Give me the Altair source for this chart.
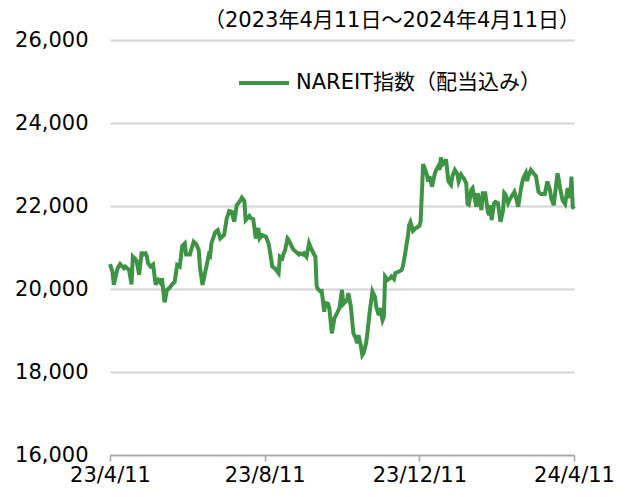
import altair as alt
import pandas as pd

start_date = "2023-04-11"
days = [0, 2, 3, 6, 8, 11, 12, 15, 17, 18, 20, 21, 23, 25, 26, 28, 29, 30, 32, 34,
        36, 37, 38, 40, 41, 43, 45, 47, 49, 51, 53, 55, 57, 59, 60, 63, 64, 66, 68, 70,
        71, 73, 76, 78, 79, 80, 83, 85, 87, 90, 92, 94, 96, 98, 100, 103, 104, 106, 107, 110,
        111, 113, 115, 117, 118, 120, 123, 125, 126, 128, 130, 132, 133, 134, 136, 137, 138, 140, 141, 144,
        145, 148, 149, 150, 152, 153, 155, 157, 158, 161, 162, 163, 164, 166, 167, 169, 170, 172, 173, 175,
        177, 179, 181, 183, 184, 187, 188, 190, 192, 194, 195, 196, 198, 199, 200, 202, 203, 205, 207, 209,
        210, 212, 213, 215, 216, 217, 219, 221, 222, 224, 225, 228, 230, 231, 233, 235, 236, 237, 239, 241,
        244, 245, 247, 250, 251, 252, 254, 256, 257, 259, 260, 261, 262, 264, 265, 267, 269, 270, 272, 274,
        275, 277, 278, 279, 281, 282, 283, 285, 286, 287, 289, 290, 291, 293, 294, 296, 298, 299, 300, 301,
        303, 304, 306, 308, 310, 311, 312, 314, 315, 317, 319, 320, 322, 324, 325, 326, 328, 329, 330, 332,
        334, 336, 338, 340, 341, 343, 345, 347, 348, 350, 353, 354, 355, 357, 359, 360, 361, 363, 364, 365,
        366]
values = [20600, 20410, 20100, 20500, 20600, 20500, 20540, 20460, 20110, 20780, 20720, 20670, 20340, 20900, 20820, 20860, 20800, 20620, 20540, 20590,
          20100, 20180, 20220, 20140, 20260, 19680, 19980, 20030, 20110, 20170, 20580, 20540, 21040, 21100, 20830, 20830, 20940, 21140, 21080, 20940,
          20510, 20100, 20540, 20830, 20800, 21100, 21370, 21420, 21220, 21300, 21690, 21880, 21860, 21620, 22020, 22140, 22200, 22120, 21660, 21760,
          21710, 21680, 21220, 21470, 21220, 21300, 21260, 21100, 20940, 20540, 20500, 20420, 20380, 20780, 20740, 20860, 20920, 21220, 21180, 20980,
          20940, 20860, 20830, 20860, 20830, 20860, 20780, 21100, 21020, 20830, 20780, 20070, 20000, 19940, 19950, 19450, 19660, 19640, 19540, 18930,
          19290, 19410, 19540, 19980, 19640, 19740, 19900, 19570, 18930, 18810, 18690, 18890, 18610, 18410, 18460, 18690, 18930, 19490, 19940, 19810,
          19570, 19370, 19540, 19250, 19330, 20300, 20220, 20260, 20300, 20240, 20380, 20420, 20460, 20540, 20890, 21280, 21540, 21610, 21400, 21460,
          21520, 21620, 23010, 22750, 22590, 22720, 22470, 22750, 22850, 22960, 22870, 23170, 22990, 23040, 23130, 22590, 22510, 22710, 22870, 22770,
          22590, 22750, 22700, 22670, 22550, 22050, 22030, 22390, 22430, 22270, 21980, 22310, 22190, 21900, 22310, 22310, 21860, 21780, 22020, 21660,
          22070, 22100, 22070, 21620, 21880, 22310, 22270, 22070, 22140, 22240, 22340, 22240, 21980, 22390, 22550, 22670, 22790, 22600, 22720, 22870,
          22790, 22720, 22340, 22290, 22290, 22290, 22590, 22390, 22190, 22020, 22790, 22630, 22430, 22140, 22050, 22240, 22430, 22190, 22710, 21980,
          21930]
series_name = "NAREIT指数（配当込み）"
title_text = "（2023年4月11日～2024年4月11日）"
y_ticks = [16000, 18000, 20000, 22000, 24000, 26000]
x_tick_dates = [(2023, 4, 11), (2023, 8, 11), (2023, 12, 11), (2024, 4, 11)]

dates = (pd.Timestamp(start_date) + pd.to_timedelta(days, unit="D")).strftime("%Y-%m-%d")
df = pd.DataFrame({"date": dates, "value": values, "series": series_name})

font = "DejaVu Sans, Noto Sans CJK JP"
tick_vals = [alt.DateTime(year=y, month=m, date=d, utc=True) for (y, m, d) in x_tick_dates]

chart = alt.Chart(df).mark_line(strokeWidth=4, interpolate="linear").encode(
    x=alt.X("date:T",
            scale=alt.Scale(type="utc", domain=[tick_vals[0], tick_vals[-1]], nice=False),
            axis=alt.Axis(values=tick_vals, labelExpr="utcFormat(datum.value, '%y/%-m/%-d')",
                          title=None, grid=False, labelFlush=False, labelOverlap=False,
                          tickSize=6, labelPadding=3, domainColor="#a6a6a6", tickColor="#a6a6a6",
                          domainWidth=1.5, tickWidth=1.5)),
    y=alt.Y("value:Q",
            scale=alt.Scale(domain=[16000, 26000], nice=False, zero=False),
            axis=alt.Axis(values=y_ticks, labelExpr="format(datum.value, ',')", title=None,
                          domain=False, ticks=False,
                          tickSize=0, labelPadding=22, gridColor="#d4d4d4", gridWidth=2)),
    color=alt.Color("series:N", scale=alt.Scale(range=["#3e9444"]),
                    legend=alt.Legend(title=None, orient="none", legendX=127, legendY=16,
                                      symbolType="stroke", symbolSize=2500, symbolStrokeWidth=4,
                                      labelFontSize=21, labelFont=font, labelColor="#000000",
                                      labelLimit=500, labelOffset=5, padding=0))
).properties(
    width=464, height=415,
    padding={"left": 102, "top": 32, "right": 45, "bottom": 34},
    autosize="none",
    title=alt.TitleParams(title_text, anchor="end", fontSize=21, font=font, fontWeight="normal",
                          color="#000000", baseline="alphabetic", offset=-19, dx=6, frame="group")
).configure_view(stroke=None).configure_axis(
    labelFont=font, labelFontSize=21, labelColor="#000000"
)

chart.save("out.html", embed_options={"renderer": "svg", "actions": False})
